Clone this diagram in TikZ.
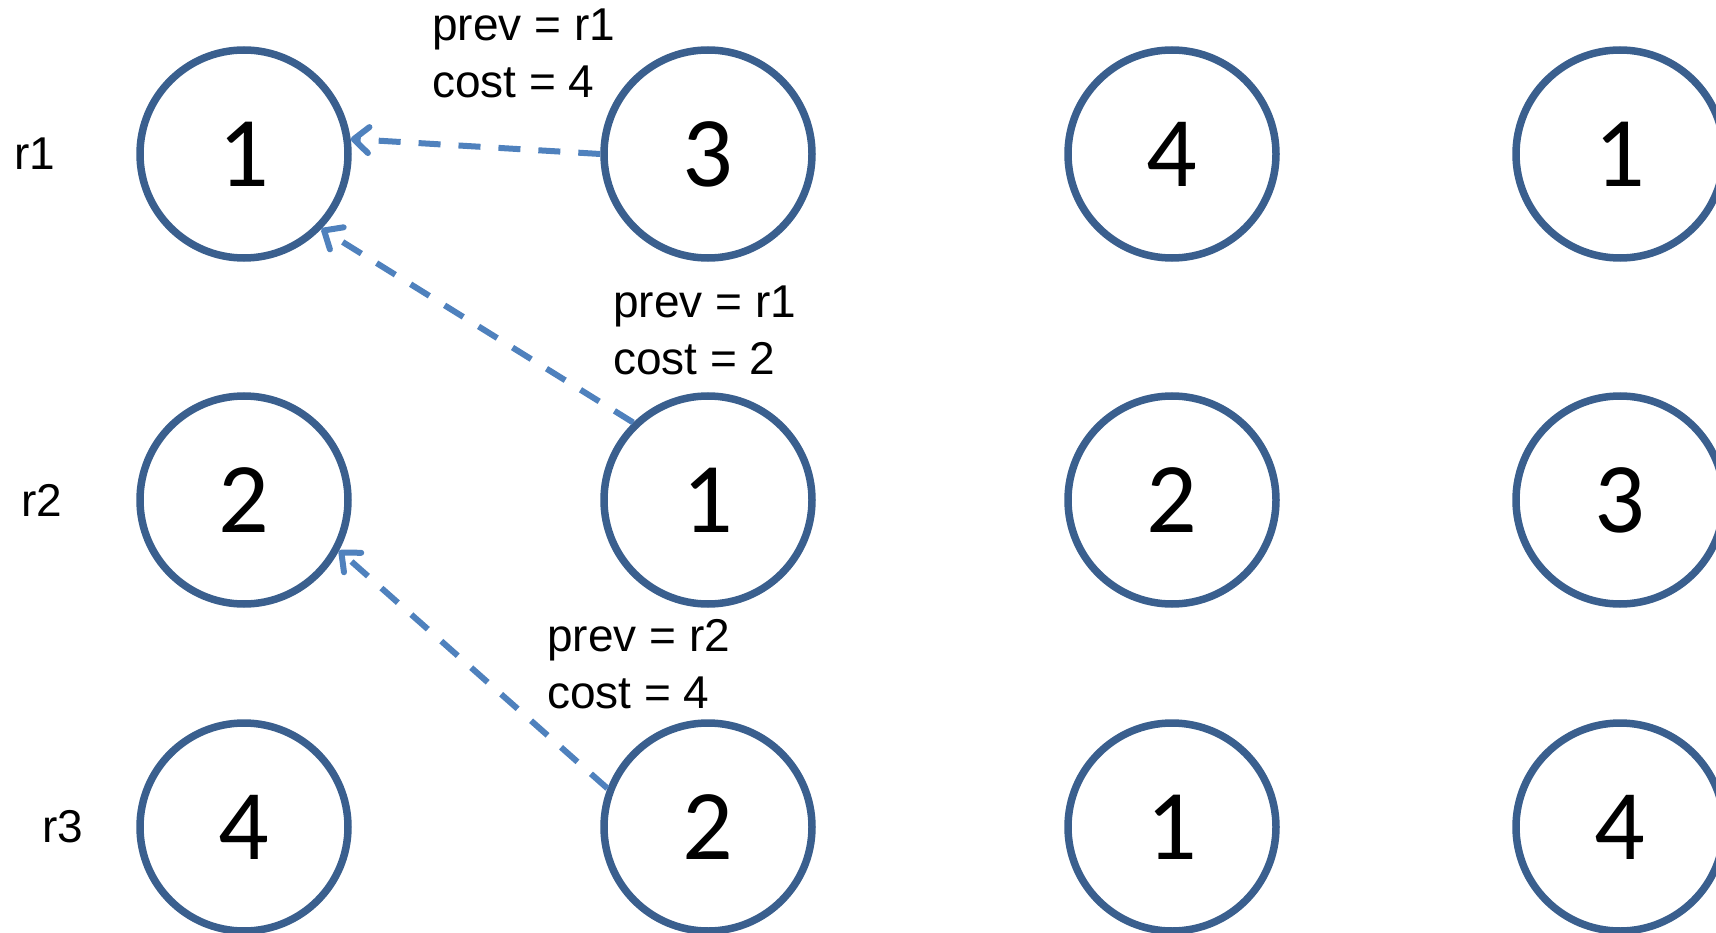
\documentclass[tikz,border=0pt]{standalone}
\usepackage{fontspec}
\setmainfont{Liberation Sans}
\newfontfamily\digitfont{Carlito}
\usetikzlibrary{
  arrows.meta,
  positioning
}
\definecolor{ringblue}{HTML}{3A5F8E}
\definecolor{linkblue}{HTML}{4F81BD}
\tikzset{
  state/.style={circle, draw=ringblue, line width=7.5pt, minimum size=208pt, inner sep=0pt,
    font=\digitfont\fontsize{100}{100}\selectfont},
  back/.style={draw=linkblue, line width=6pt, dash pattern=on 22pt off 18pt,
    -{Straight Barb[length=15pt,width=26pt,round]}},
  rowlabel/.style={font=\fontsize{46}{55}\selectfont, inner sep=0pt},
  note/.style={align=left, anchor=west, inner sep=0pt, font=\fontsize{46}{57}\selectfont}
}
\begin{document}
\begin{tikzpicture}[x=1pt,y=-1pt]
  \useasboundingbox (0,0) rectangle (1716,933);
  % states, one row per reading
  \foreach \x/\v [count=\c] in {244/1,708/3,1172/4,1620/1}
    \node[state] (s1-\c) at (\x,154) {\v};
  \foreach \x/\v [count=\c] in {244/2,708/1,1172/2,1620/3}
    \node[state] (s2-\c) at (\x,500) {\v};
  \foreach \x/\v [count=\c] in {244/4,708/2,1172/1,1620/4}
    \node[state] (s3-\c) at (\x,827) {\v};
  \node[rowlabel] (r1) at (35,154) {r1};
  \node[rowlabel] (r2) at (42,500) {r2};
  \node[rowlabel] (r3) at (63,827) {r3};
  % back pointers
  \draw[back] (s1-2.west) -- (s1-1.8);
  \draw[back] (s2-2.134) -- (s1-1.-44);
  \draw[back] (s3-2.159) -- (s2-1.-28);
  \node[note] (n1) at (432,53)  {prev = r1\\cost = 4};
  \node[note] (n2) at (613,330) {prev = r1\\cost = 2};
  \node[note] (n3) at (547,664) {prev = r2\\cost = 4};
\end{tikzpicture}
\end{document}
